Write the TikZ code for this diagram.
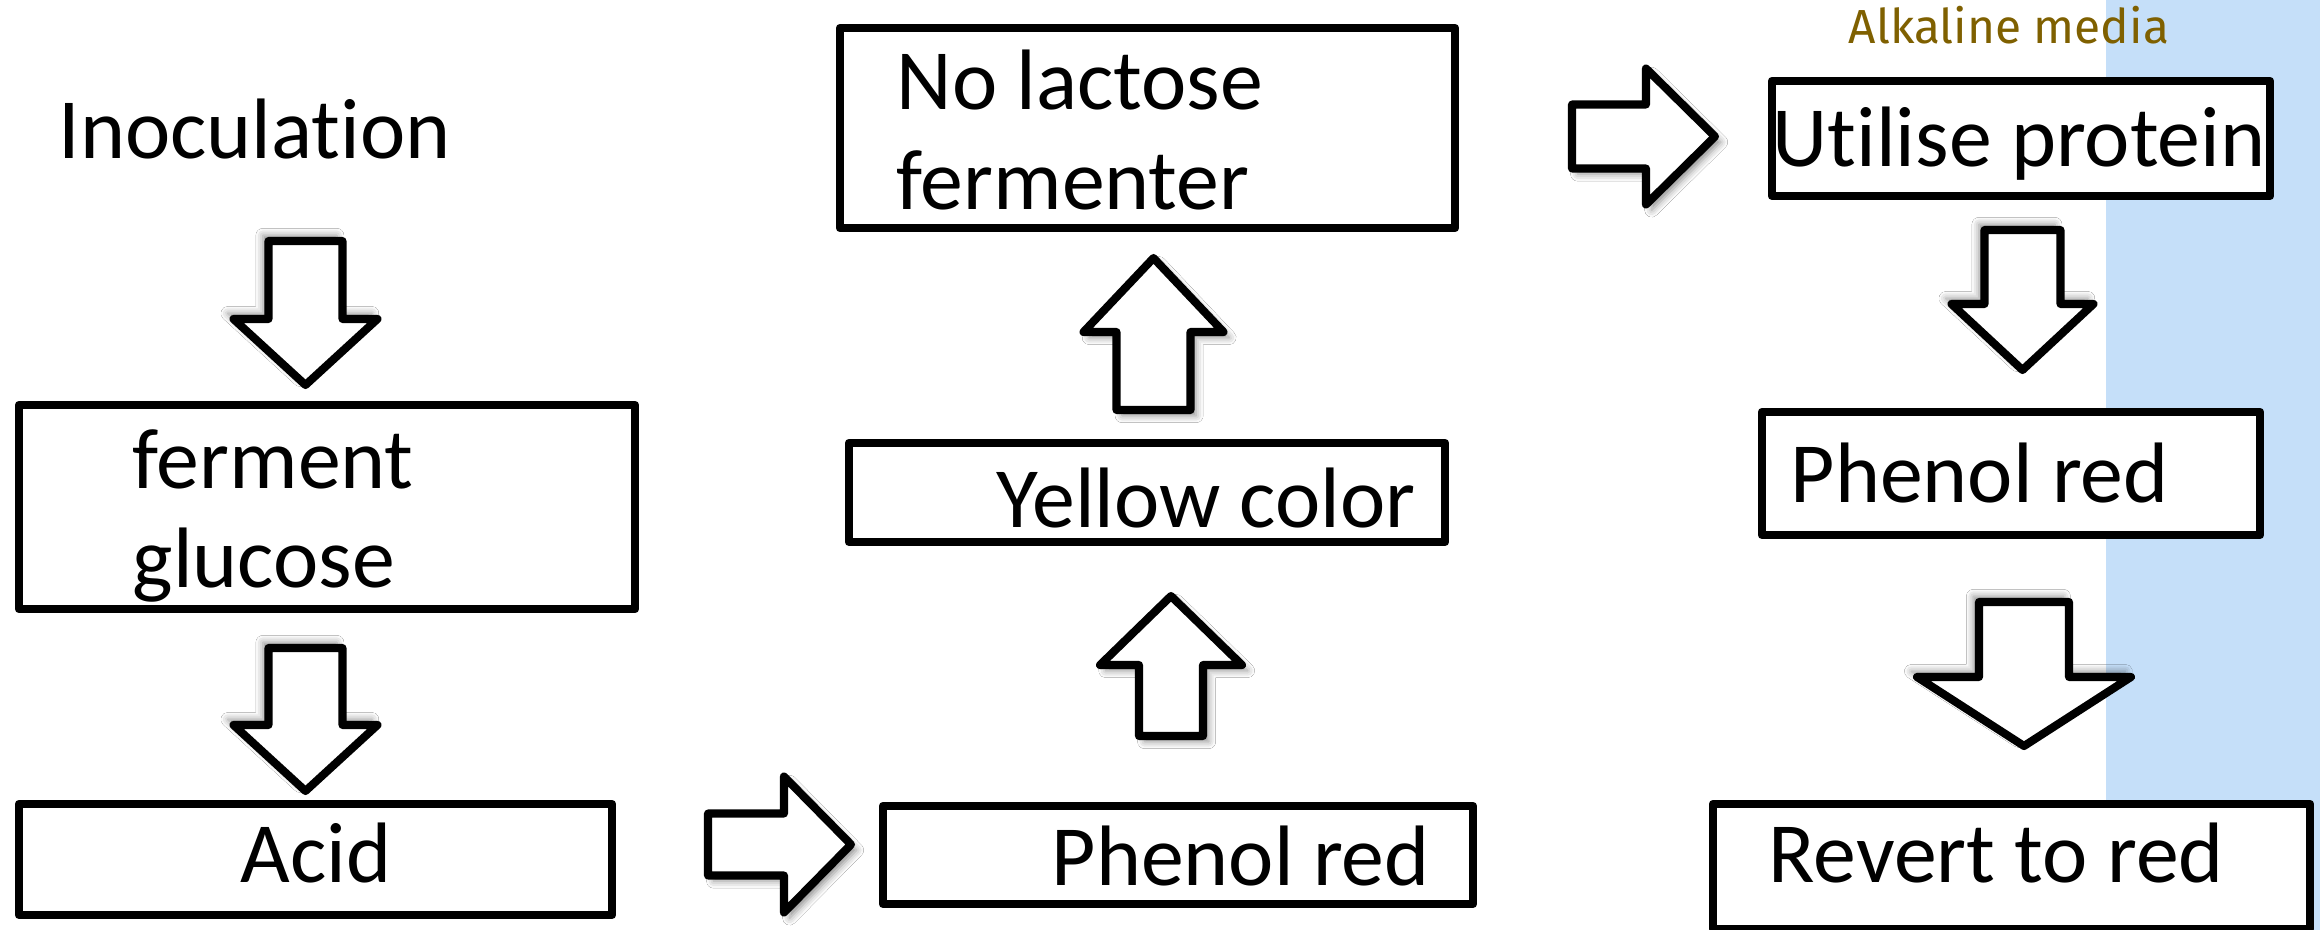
\documentclass[tikz,border=0pt]{standalone}
\usepackage{fontspec}
\setmainfont{Carlito}[Ligatures=NoCommon]
\newfontfamily\mediafont{Fira Sans}
\usetikzlibrary{shadows.blur}

\definecolor{mediablue}{RGB}{197,223,249}
\definecolor{mediatext}{RGB}{127,96,0}

\tikzset{
  stepbox/.style={draw, fill=white, line width=2.3pt, inner sep=0pt, line join=round},
  steptext/.style={anchor=base west, inner sep=0pt, font=\fontsize{24.4}{29}\selectfont},
  blockarrow/.style={draw, fill=white, line width=2.3pt, line join=round},
  shadowdr/.style={blur shadow={shadow xshift=1.6pt, shadow yshift=-1.6pt, shadow blur radius=2pt, shadow opacity=45}},
  shadowul/.style={blur shadow={shadow xshift=-1.6pt, shadow yshift=1.6pt, shadow blur radius=2pt, shadow opacity=45}},
}

% block arrows: #1,#2 anchor point, #3 length, #4 head half-width, #5 shaft half-width, #6 head length
\newcommand\arrR[6]{%
  \draw[blockarrow,shadowdr] (#1,{#2-#5}) -- ({#1+#3-#6},{#2-#5}) -- ({#1+#3-#6},{#2-#4})
    -- ({#1+#3},#2) -- ({#1+#3-#6},{#2+#4}) -- ({#1+#3-#6},{#2+#5}) -- (#1,{#2+#5}) -- cycle;}
\newcommand\arrD[6]{%
  \draw[blockarrow,shadowul] ({#1-#5},#2) -- ({#1+#5},#2) -- ({#1+#5},{#2+#3-#6})
    -- ({#1+#4},{#2+#3-#6}) -- (#1,{#2+#3}) -- ({#1-#4},{#2+#3-#6}) -- ({#1-#5},{#2+#3-#6}) -- cycle;}
\newcommand\arrU[6]{%
  \draw[blockarrow,shadowdr] (#1,#2) -- ({#1+#4},{#2+#6}) -- ({#1+#5},{#2+#6}) -- ({#1+#5},{#2+#3})
    -- ({#1-#5},{#2+#3}) -- ({#1-#5},{#2+#6}) -- ({#1-#4},{#2+#6}) -- cycle;}

\begin{document}
\begin{tikzpicture}[x=0.01cm, y=-0.01cm]
  \useasboundingbox (0,0) rectangle (2320,930);
  \fill[white] (0,0) rectangle (2320,930);

  % alkaline band on the right
  \fill[mediablue] (2106,0) rectangle (2320,930);

  % process boxes
  \node[stepbox, minimum width=6.16cm, minimum height=2.04cm] (fg)  at (327,507)    {};
  \node[stepbox, minimum width=5.93cm, minimum height=1.11cm] (acid) at (315.5,859.5) {};
  \node[stepbox, minimum width=5.90cm, minimum height=0.98cm] (pr1) at (1178,855)   {};
  \node[stepbox, minimum width=5.96cm, minimum height=0.99cm] (yc)  at (1147,492.5) {};
  \node[stepbox, minimum width=6.15cm, minimum height=2.00cm] (nlf) at (1147.5,128) {};
  \node[stepbox, minimum width=4.98cm, minimum height=1.15cm] (up)  at (2021,138.5) {};
  \node[stepbox, minimum width=4.98cm, minimum height=1.23cm] (pr2) at (2011,473.5) {};
  \node[stepbox, minimum width=5.97cm, minimum height=1.25cm] (rr)  at (2011.5,866.5) {};

  % labels
  \node[steptext] (tinoc) at (58,158)   {Inoculation};
  \node[steptext] (tfg1)  at (132,488)  {ferment};
  \node[steptext] (tfg2)  at (132,587)  {glucose};
  \node[steptext] (tacid) at (240,882)  {Acid};
  \node[steptext] (tpr1)  at (1051,885) {Phenol red};
  \node[steptext] (tyc)   at (996,527)  {Yellow color};
  \node[steptext] (tnl1)  at (896,109)  {No lactose};
  \node[steptext] (tnl2)  at (896,209)  {fermenter};
  \node[steptext] (tup)   at (1772,166) {Utilise protein};
  \node[steptext] (tpr2)  at (1790,502) {Phenol red};
  \node[steptext] (trr)   at (1768,882) {Revert to red};
  \node[anchor=base, inner sep=0pt, text=mediatext, font=\mediafont\fontsize{13.6}{16}\selectfont]
    (media) at (2009,43) {Alkaline media};

  % block arrows between the steps
  \arrD{305.5}{241}{144}{72}{37}{66}
  \arrD{305.5}{648}{143}{72}{37}{66}
  \arrR{708}{844.5}{143}{68}{31}{67}
  \arrU{1171}{596}{140}{71}{32}{69}
  \arrU{1153.5}{258}{152}{70}{37}{74}
  \arrR{1572}{136.5}{143}{68}{32}{69}
  \arrD{2022.5}{230}{140}{71}{38}{66}
  \arrD{2024}{602}{144}{107}{45}{69}
\end{tikzpicture}
\end{document}
